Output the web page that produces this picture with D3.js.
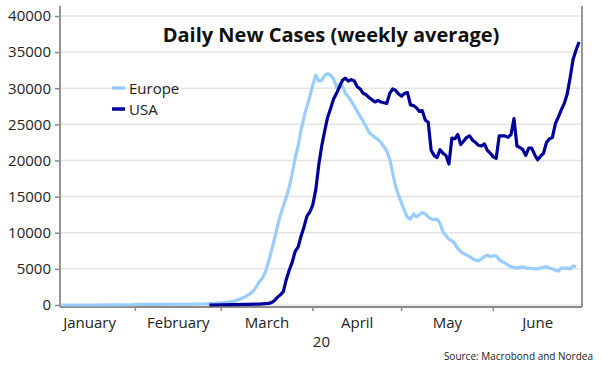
<!DOCTYPE html>
<html>
<head>
<meta charset="utf-8">
<script src="https://cdn.jsdelivr.net/npm/d3@7"></script>
<style>
  body { margin: 0; background: #fff; }
  svg { display: block; font-family: "Open Sans", sans-serif; }
</style>
</head>
<body>
<svg id="chart" width="602" height="380"></svg>
<script>
const width = 602;
const height = 380;

// daily new cases, 7-day average
const europeDates = [
  "01-07", "01-15", "01-24", "01-31", "02-01", "02-10", "02-20", "02-25", "02-28",
  "03-01", "03-03", "03-05", "03-07", "03-09", "03-10", "03-11", "03-12", "03-13",
  "03-14", "03-15", "03-16", "03-17", "03-18", "03-19", "03-20", "03-21", "03-22",
  "03-23", "03-24", "03-25", "03-26", "03-27", "03-28", "03-29", "03-30", "03-31",
  "04-01", "04-02", "04-03", "04-04", "04-05", "04-06", "04-07", "04-08", "04-09", "04-10",
  "04-11", "04-12", "04-13", "04-14", "04-15", "04-16", "04-17", "04-18", "04-19", "04-20",
  "04-21", "04-22", "04-23", "04-24", "04-25", "04-26", "04-27", "04-28", "04-29", "04-30",
  "05-01", "05-02", "05-03", "05-04", "05-05", "05-06", "05-07", "05-08", "05-09", "05-10",
  "05-11", "05-12", "05-13", "05-14", "05-15", "05-16", "05-17", "05-18", "05-19", "05-20",
  "05-21", "05-22", "05-23", "05-24", "05-25", "05-26", "05-27", "05-28", "05-29", "05-30", "05-31",
  "06-01", "06-02", "06-03", "06-04", "06-05", "06-06", "06-07", "06-08", "06-09", "06-10",
  "06-11", "06-12", "06-13", "06-14", "06-15", "06-16", "06-17", "06-18", "06-19", "06-20",
  "06-21", "06-22", "06-23", "06-24", "06-25", "06-26", "06-27", "06-28", "06-29",
];
const europeValues = [
  0, 0, 10, 30, 80, 90, 110, 170, 240,
  300, 380, 500, 750, 1100, 1350, 1600, 2000, 2600,
  3300, 3750, 4650, 6000, 7500, 9200, 10800, 12400, 13700,
  14900, 16300, 18200, 20300, 22000, 24200, 26000, 27500, 28900,
  30500, 31800, 31000, 31100, 31800, 32000, 31800, 31300, 30100, 30600,
  30300, 29300, 28800, 28200, 27500, 26800, 26100, 25400, 24700, 23900,
  23500, 23200, 22900, 22500, 21900, 21300, 20200, 18200, 16400, 15200,
  14100, 13000, 12100, 11900, 12600, 12200, 12500, 12800, 12600, 12200,
  11900, 11800, 11900, 11300, 10100, 9600, 9100, 8900, 8500, 7800,
  7400, 7100, 6900, 6700, 6400, 6200, 6100, 6400, 6700, 6900, 6700,
  6800, 6800, 6300, 6000, 5800, 5500, 5300, 5200, 5100, 5200,
  5300, 5100, 5100, 5050, 5000, 5000, 5100, 5200, 5300, 5100,
  5000, 4800, 4700, 5100, 5100, 5100, 5000, 5400, 5300,
];

const usaDates = [
  "02-26", "03-01", "03-05", "03-10", "03-14", "03-16",
  "03-17", "03-18", "03-19", "03-20", "03-21", "03-22", "03-23", "03-24", "03-25",
  "03-26", "03-27", "03-28", "03-29", "03-30", "03-31",
  "04-01", "04-02", "04-03", "04-04", "04-05", "04-06", "04-07", "04-08", "04-09", "04-10",
  "04-11", "04-12", "04-13", "04-14", "04-15", "04-16", "04-17", "04-18", "04-19", "04-20",
  "04-21", "04-22", "04-23", "04-24", "04-25", "04-26", "04-27", "04-28", "04-29", "04-30",
  "05-01", "05-02", "05-03", "05-04", "05-05", "05-06", "05-07", "05-08", "05-09", "05-10",
  "05-11", "05-12", "05-13", "05-14", "05-15", "05-16", "05-17", "05-18", "05-19", "05-20",
  "05-21", "05-22", "05-23", "05-24", "05-25", "05-26", "05-27", "05-28", "05-29", "05-30", "05-31",
  "06-01", "06-02", "06-03", "06-04", "06-05", "06-06", "06-07", "06-08", "06-09", "06-10",
  "06-11", "06-12", "06-13", "06-14", "06-15", "06-16", "06-17", "06-18", "06-19", "06-20",
  "06-21", "06-22", "06-23", "06-24", "06-25", "06-26", "06-27", "06-28", "06-29", "06-30",
];
const usaValues = [
  0, 30, 60, 90, 130, 200,
  220, 330, 600, 1050, 1400, 1850, 3500, 4800, 5900,
  7400, 8000, 9500, 10800, 12300, 12900,
  13900, 16000, 19400, 22000, 24100, 26000, 27200, 28500, 29300, 30200,
  31100, 31400, 31000, 31200, 31000, 30200, 29900, 29300, 29100, 28700,
  28400, 28100, 28300, 28100, 28000, 27900, 29300, 29900, 29700, 29200,
  28900, 29300, 29400, 27700, 27600, 27300, 26800, 26900, 25600, 25300,
  21400, 20700, 20400, 21500, 21000, 20700, 19500, 23100, 23000, 23600,
  22200, 22700, 23200, 23400, 22800, 22500, 22100, 22000, 22300, 21400, 21000,
  20500, 20300, 23400, 23400, 23400, 23200, 23600, 25800, 22000, 21800,
  21500, 20700, 21700, 21700, 20800, 20100, 20600, 21000, 22500, 23000,
  23200, 25100, 26000, 27000, 27900, 29200, 31500, 34000, 35300, 36400,
];

const yTicks = [0, 5000, 10000, 15000, 20000, 25000, 30000, 35000, 40000];
const months = ["January", "February", "March", "April", "May", "June"];
const seriesNames = ["Europe", "USA"];
const seriesColors = ["#99ccff", "#00009a"];

const parseDay = d3.timeParse("%Y-%m-%d");
const toPoints = (dates, values) =>
  dates.map((d, i) => ({ date: parseDay("2020-" + d), value: values[i] }));

const svg = d3.select("#chart");

const x = d3
  .scaleTime()
  .domain([new Date(2020, 0, 6, 12), new Date(2020, 6, 1)])
  .range([60, 582]);
const y = d3.scaleLinear().domain([-280, 40000]).range([307, 16]);

// grid
svg
  .append("g")
  .selectAll("line")
  .data(yTicks)
  .join("line")
  .attr("x1", 60)
  .attr("x2", 582)
  .attr("y1", (d) => y(d))
  .attr("y2", (d) => y(d))
  .attr("stroke", "#e4e4e4")
  .attr("stroke-width", 1.5);

// y axis
const yAxis = svg
  .append("g")
  .attr("transform", "translate(60,0)")
  .call(
    d3
      .axisLeft(y)
      .tickValues(yTicks)
      .tickFormat(d3.format("d"))
      .tickSize(5)
      .tickSizeOuter(0)
      .tickPadding(4)
  );
yAxis.select(".domain").remove();
yAxis.selectAll(".tick line").attr("stroke", "#8a8a8a").attr("stroke-width", 1.5);
yAxis.selectAll(".tick text").attr("font-size", 15).attr("fill", "#222").attr("font-family", "Open Sans");

// frame: left axis, bottom axis, right border
const frame = svg.append("g").attr("stroke", "#8a8a8a").attr("stroke-width", 1.8);
frame.append("line").attr("x1", 60).attr("x2", 60).attr("y1", 6).attr("y2", y(-280));
frame.append("line").attr("x1", 60).attr("x2", 582).attr("y1", y(-280)).attr("y2", y(-280));
frame.append("line").attr("x1", 582).attr("x2", 582).attr("y1", 6).attr("y2", y(-280));

// x axis month ticks and labels
const monthStarts = months.map((m, i) => new Date(2020, i, 1));
svg
  .append("g")
  .selectAll("line")
  .data(monthStarts.slice(1))
  .join("line")
  .attr("x1", (d) => x(d))
  .attr("x2", (d) => x(d))
  .attr("y1", y(-280))
  .attr("y2", y(-280) + 4)
  .attr("stroke", "#8a8a8a")
  .attr("stroke-width", 1.5);

svg
  .append("g")
  .selectAll("text")
  .data(months)
  .join("text")
  .attr("x", (d, i) => (x(new Date(2020, i, 1)) + x(new Date(2020, i + 1, 1))) / 2)
  .attr("y", 328)
  .attr("text-anchor", "middle")
  .attr("font-size", 15)
  .attr("fill", "#222")
  .text((d) => d);

svg
  .append("text")
  .attr("x", x(new Date(2020, 3, 1)))
  .attr("y", 347)
  .attr("font-size", 15)
  .attr("fill", "#222")
  .text("20");

// lines
const line = d3
  .line()
  .x((d) => x(d.date))
  .y((d) => y(d.value));

const data = [toPoints(europeDates, europeValues), toPoints(usaDates, usaValues)];
svg
  .append("g")
  .selectAll("path")
  .data(data)
  .join("path")
  .attr("d", line)
  .attr("fill", "none")
  .attr("stroke", (d, i) => seriesColors[i])
  .attr("stroke-width", 3.2)
  .attr("stroke-linejoin", "round");

// title
svg
  .append("text")
  .attr("x", 331)
  .attr("y", 42)
  .attr("text-anchor", "middle")
  .attr("font-size", 20)
  .attr("font-weight", "bold")
  .attr("fill", "#111")
  .text("Daily New Cases (weekly average)");

// legend
const legend = svg
  .append("g")
  .selectAll("g")
  .data(seriesNames)
  .join("g")
  .attr("transform", (d, i) => `translate(112,${88 + i * 21})`);
legend
  .append("line")
  .attr("x1", 0)
  .attr("x2", 13)
  .attr("stroke", (d, i) => seriesColors[i])
  .attr("stroke-width", 3.5);
legend
  .append("text")
  .attr("x", 17)
  .attr("y", 5.5)
  .attr("font-size", 15)
  .attr("fill", "#222")
  .text((d) => d);

// source
svg
  .append("text")
  .attr("x", 593)
  .attr("y", 360)
  .attr("text-anchor", "end")
  .attr("font-size", 10)
  .attr("fill", "#222")
  .text("Source: Macrobond and Nordea");
</script>
</body>
</html>
